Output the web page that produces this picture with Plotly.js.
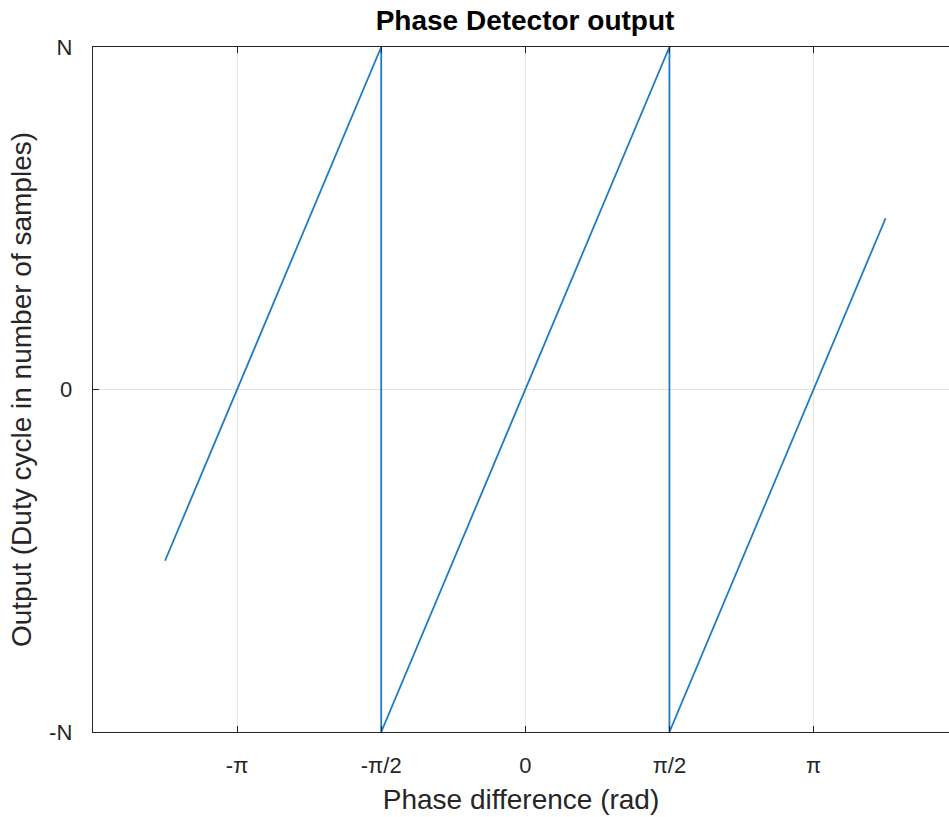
<!DOCTYPE html>
<html>
<head>
<meta charset="utf-8">
<script src="https://cdn.plot.ly/plotly-3.0.1.min.js"></script>
<style>html,body{margin:0;padding:0;background:#fff;}#chart{width:949px;height:817px;}</style>
</head>
<body>
<div id="chart"></div>
<script>
// Phase difference in units of pi, and output normalised to N
var phaseInPi = [-1.25, -0.5, -0.5, 0.5, 0.5, 1.25];
var outputN = [-0.5, 1, -1, 1, -1, 0.5];
var xTickPi = [-1, -0.5, 0, 0.5, 1];
var xTickLabels = ['-π', '-π/2', '0', 'π/2', 'π'];
var yTickVals = [-1, 0, 1];
var yTickLabels = ['-N', '0', 'N'];

var PI = Math.PI;
var trace = {
  x: phaseInPi.map(function(v){return v*PI;}),
  y: outputN,
  mode: 'lines',
  line: {color: '#1f7cc4', width: 1.8},
  hoverinfo: 'skip'
};

var axisColor = '#262626';
var layout = {
  width: 949, height: 817,
  margin: {l: 93, r: 0, t: 47, b: 85},
  paper_bgcolor: '#ffffff', plot_bgcolor: '#ffffff',
  showlegend: false,
  font: {family: 'Liberation Sans, Arial, sans-serif', color: axisColor, size: 22},
  title: {
    text: '<b>Phase Detector output</b>',
    font: {size: 28, color: '#000000'},
    x: 525/949, xref: 'container', xanchor: 'center',
    y: 1 - 20/817, yref: 'container', yanchor: 'middle'
  },
  xaxis: {
    range: [-1.5*PI, 1.47*PI],
    tickvals: xTickPi.map(function(v){return v*PI;}),
    ticktext: xTickLabels,
    ticks: 'inside', ticklen: 6, tickwidth: 1, tickcolor: axisColor,
    showline: true, linecolor: axisColor, linewidth: 1.3, mirror: 'ticks',
    showgrid: true, gridcolor: '#e3e3e3', gridwidth: 1,
    zeroline: false,
    ticklabelstandoff: 13,
    tickfont: {size: 22, color: axisColor},
    title: {text: 'Phase difference (rad)', font: {size: 28, color: axisColor}, standoff: 12}
  },
  yaxis: {
    range: [-1, 1],
    tickvals: yTickVals,
    ticktext: yTickLabels,
    ticks: 'inside', ticklen: 6, tickwidth: 1, tickcolor: axisColor,
    showline: true, linecolor: axisColor, linewidth: 1.3, mirror: false,
    showgrid: true, gridcolor: '#e3e3e3', gridwidth: 1,
    zeroline: false,
    ticklabelstandoff: 15,
    tickfont: {size: 22, color: axisColor},
    title: {text: 'Output (Duty cycle in number of samples)', font: {size: 28, color: axisColor}, standoff: 9}
  }
};

Plotly.newPlot('chart', [trace], layout, {staticPlot: true, displayModeBar: false});
</script>
</body>
</html>
